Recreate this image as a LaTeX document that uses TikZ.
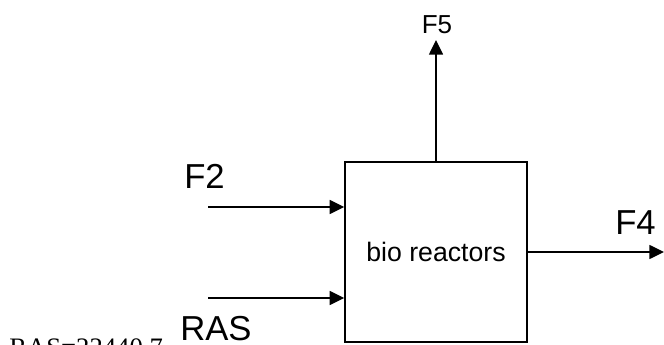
\documentclass[tikz,border=0pt]{standalone}
\usepackage{fontspec}
\setmainfont{Liberation Sans}
\newfontfamily\serifnum{Liberation Serif}
\usetikzlibrary{arrows.meta}
\begin{document}
\begin{tikzpicture}[x=0.75pt,y=-0.75pt,
  line/.style={line width=1.1pt,draw=black},
  arr/.style={line,-{Triangle[length=11pt,width=10.5pt]}},
  lbl/.style={inner sep=0pt,font=\fontsize{26}{30}\selectfont}]
\useasboundingbox (0,0) rectangle (664,345);
\clip (0,0) rectangle (664,345);
\node[line,rectangle,minimum width=136.5pt,minimum height=135pt,inner sep=0pt,
  font=\fontsize{20}{24}\selectfont] (box) at (436,252) {bio reactors};
\coordinate (f2s) at (208,207);
\coordinate (rass) at (208,298);
\coordinate (f5e) at (436,40);
\coordinate (f4e) at (664,252);
\draw[arr] (f2s) -- (f2s -| box.west);
\draw[arr] (rass) -- (rass -| box.west);
\draw[arr] (box.north) -- (f5e);
\draw[arr] (box.east) -- (f4e);
\node[lbl,anchor=base west] (f2) at (184,189) {F2};
\node[lbl,anchor=base west] (ras) at (180,340) {RAS};
\node[lbl,anchor=base east] (f4) at (656,235) {F4};
\node[inner sep=0pt,anchor=base,font=\fontsize{19.5}{24}\selectfont] (f5) at (437,34) {F5};
\node[inner sep=0pt,anchor=base west,font=\serifnum\fontsize{20}{24}\selectfont] (rasval) at (9,356) {RAS=22440.7};
\end{tikzpicture}
\end{document}
